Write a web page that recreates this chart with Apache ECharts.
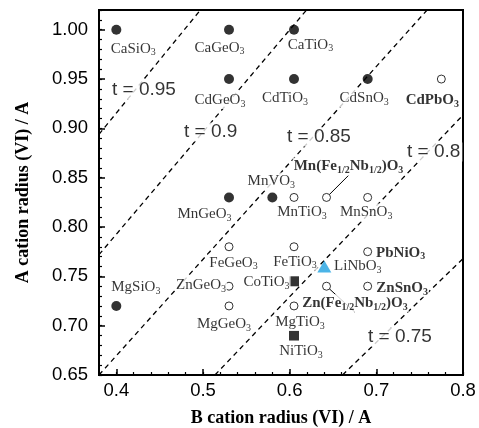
<!DOCTYPE html>
<html>
<head>
<meta charset="utf-8">
<script src="https://cdn.jsdelivr.net/npm/echarts@6/dist/echarts.min.js"></script>
<style>
html, body { margin: 0; padding: 0; background: #fff; }
#main { width: 479px; height: 428px; }
</style>
</head>
<body>
<div id="main"></div>
<script>
// 化合物名 ({..} 为下标), B 位半径, A 位半径, 符号类型
var names = ['CaSiO{3}', 'CaGeO{3}', 'CaTiO{3}', 'CdGeO{3}', 'CdTiO{3}', 'CdSnO{3}', 'CdPbO{3}',
	'MnGeO{3}', 'MnVO{3}', 'MnTiO{3}', 'Mn(Fe{1/2}Nb{1/2})O{3}', 'MnSnO{3}', 'FeGeO{3}', 'FeTiO{3}',
	'PbNiO{3}', 'LiNbO{3}', 'ZnGeO{3}', 'CoTiO{3}', 'Zn(Fe{1/2}Nb{1/2})O{3}', 'ZnSnO{3}',
	'MgSiO{3}', 'MgGeO{3}', 'MgTiO{3}', 'NiTiO{3}'];
var bRadius = [0.40, 0.53, 0.605, 0.53, 0.605, 0.69, 0.775,
	0.53, 0.58, 0.605, 0.6425, 0.69, 0.53, 0.605,
	0.69, 0.64, 0.53, 0.605, 0.6425, 0.69,
	0.40, 0.53, 0.605, 0.605];
var aRadius = [1.00, 1.00, 1.00, 0.95, 0.95, 0.95, 0.95,
	0.83, 0.83, 0.83, 0.83, 0.83, 0.78, 0.78,
	0.775, 0.76, 0.74, 0.745, 0.74, 0.74,
	0.72, 0.72, 0.72, 0.69];
var kinds = ['filled', 'filled', 'filled', 'filled', 'filled', 'filled', 'open',
	'filled', 'filled', 'open', 'open', 'open', 'open', 'open',
	'open', 'triangle', 'open', 'square', 'open', 'open',
	'filled', 'open', 'open', 'square'];

// 容忍因子线 t, 两端点
var tNames = ['t = 0.95', 't = 0.9', 't = 0.85', 't = 0.8', 't = 0.75'];
var tLineB = [[0.38, 0.497], [0.38, 0.6195], [0.38, 0.7586], [0.5138, 0.80], [0.661, 0.80]];
var tLineA = [[0.894, 1.02], [0.772, 1.02], [0.65, 1.02], [0.65, 0.9135], [0.65, 0.768]];
// t 标签的位置 (左端)
var tLabelB = [0.3927, 0.4758, 0.5946, 0.7331, 0.6881];
var tLabelA = [0.939, 0.8963, 0.8913, 0.8761, 0.6885];

var xTicks = [0.4, 0.5, 0.6, 0.7, 0.8];
var yTicks = [0.65, 0.70, 0.75, 0.80, 0.85, 0.90, 0.95, 1.00];

// 标签相对符号中心的偏移 (像素)
var labelOffset = [[17, 19], [-9.5, 18], [16.5, 15], [-9, 21], [-9, 19], [-3.5, 19], [-9, 21],
	[-24.5, 17], [-1, -16], [8, 15], [22, -31], [-1.5, 15], [4.5, 16], [1, 15],
	[33, 1], [33.5, 0], [-28, -1], [-27.5, 1], [28.5, 17], [34.5, 2],
	[19.5, -19], [-5, 18], [6, 16], [7, 16]];
var boldNames = ['CdPbO{3}', 'Mn(Fe{1/2}Nb{1/2})O{3}', 'PbNiO{3}', 'Zn(Fe{1/2}Nb{1/2})O{3}', 'ZnSnO{3}'];
var leaderNames = ['Mn(Fe{1/2}Nb{1/2})O{3}', 'Zn(Fe{1/2}Nb{1/2})O{3}'];

var serif = '"Liberation Serif", "Times New Roman", serif';
var sans = '"Liberation Sans", Arial, sans-serif';

var riskChart = echarts.init(document.getElementById('main'));

function pointsOf(kind) {
	var out = [];
	for (var i = 0; i < names.length; i++) {
		if (kinds[i] !== kind) continue;
		var bold = boldNames.indexOf(names[i]) >= 0;
		var tag = bold ? 'sb' : 's';
		out.push({
			value: [bRadius[i], aRadius[i]],
			label: {
				show: true,
				position: 'inside',
				offset: labelOffset[i],
				fontWeight: bold ? 'bold' : 'normal',
				formatter: names[i].replace(/\{([^}]*)\}/g, '{' + tag + '|$1}')
			},
			labelLine: { show: leaderNames.indexOf(names[i]) >= 0, lineStyle: { color: '#000', width: 1 } }
		});
	}
	return out;
}

var labelBase = {
	color: '#000',
	fontFamily: serif,
	fontSize: 15,
	lineHeight: 18,
	backgroundColor: '#fff',
	padding: [0, 1],
	rich: {
		s: { fontFamily: serif, fontSize: 10, lineHeight: 18, verticalAlign: 'bottom', color: '#000' },
		sb: { fontFamily: serif, fontSize: 10, lineHeight: 18, verticalAlign: 'bottom', fontWeight: 'bold', color: '#000' }
	}
};

var series = [];
for (var t = 0; t < tNames.length; t++) {
	series.push({
		type: 'line',
		symbol: 'none',
		silent: true,
		z: 1,
		lineStyle: { color: '#000', width: 1.3, type: [5, 4] },
		data: [[tLineB[t][0], tLineA[t][0]], [tLineB[t][1], tLineA[t][1]]]
	});
}
series.push({
	type: 'scatter',
	symbolSize: 0,
	silent: true,
	data: tNames.map(function (n, i) { return { value: [tLabelB[i], tLabelA[i]], name: n }; }),
	label: {
		show: true, position: 'inside', align: 'left', verticalAlign: 'middle',
		formatter: '{b}', color: '#000', fontFamily: sans, fontSize: 19,
		backgroundColor: '#fff', padding: [0, 2]
	}
});
series.push({
	type: 'scatter', symbol: 'circle', symbolSize: 10,
	itemStyle: { color: '#000' }, label: labelBase, data: pointsOf('filled')
});
series.push({
	type: 'scatter', symbol: 'circle', symbolSize: 8,
	itemStyle: { color: '#fff', borderColor: '#000', borderWidth: 1 }, label: labelBase, data: pointsOf('open')
});
series.push({
	type: 'scatter', symbol: 'rect', symbolSize: 10,
	itemStyle: { color: '#000' }, label: labelBase, data: pointsOf('square')
});
series.push({
	type: 'scatter', symbol: 'triangle', symbolSize: [14, 12],
	itemStyle: { color: '#1ea1e1' }, label: labelBase, data: pointsOf('triangle')
});

var option = {
	animation: false,
	grid: {
		left: 99, top: 10, width: 364, height: 365,
		outerBoundsMode: 'none',
		show: true, borderColor: '#000', borderWidth: 2
	},
	xAxis: [
		{
			type: 'value', min: 0.38, max: 0.8, position: 'bottom',
			axisLine: { lineStyle: { color: '#000', width: 2 } },
			axisTick: { inside: true, length: 6, customValues: xTicks, lineStyle: { color: '#000', width: 1.5 } },
			axisLabel: {
				customValues: xTicks, margin: 6, color: '#000', fontFamily: sans, fontSize: 18.5,
				formatter: function (v) { return v.toFixed(1); }
			},
			splitLine: { show: false },
			name: 'B cation radius (VI) / A', nameLocation: 'middle', nameGap: 34,
			nameTextStyle: { color: '#000', fontFamily: serif, fontWeight: 'bold', fontSize: 18 }
		},
		{
			type: 'value', min: 0.38, max: 0.8, interval: 0.02, position: 'bottom',
			axisLine: { show: false },
			axisTick: { inside: true, length: 3, lineStyle: { color: '#000', width: 1.2 } },
			axisLabel: { show: false },
			splitLine: { show: false }
		}
	],
	yAxis: [
		{
			type: 'value', min: 0.65, max: 1.02, position: 'left',
			axisLine: { show: true, lineStyle: { color: '#000', width: 2 } },
			axisTick: { show: true, inside: true, length: 6, customValues: yTicks, lineStyle: { color: '#000', width: 1.5 } },
			axisLabel: {
				customValues: yTicks, margin: 11, color: '#000', fontFamily: sans, fontSize: 18.5,
				formatter: function (v) { return v.toFixed(2); }
			},
			splitLine: { show: false },
			name: 'A cation radius (VI) / A', nameLocation: 'middle', nameGap: 67,
			nameTextStyle: { color: '#000', fontFamily: serif, fontWeight: 'bold', fontSize: 18 }
		},
		{
			type: 'value', min: 0.65, max: 1.02, interval: 0.01, position: 'left',
			axisLine: { show: false },
			axisTick: { show: true, inside: true, length: 3, lineStyle: { color: '#000', width: 1.2 } },
			axisLabel: { show: false },
			splitLine: { show: false }
		}
	],
	series: series
};

riskChart.setOption(option);
</script>
</body>
</html>
